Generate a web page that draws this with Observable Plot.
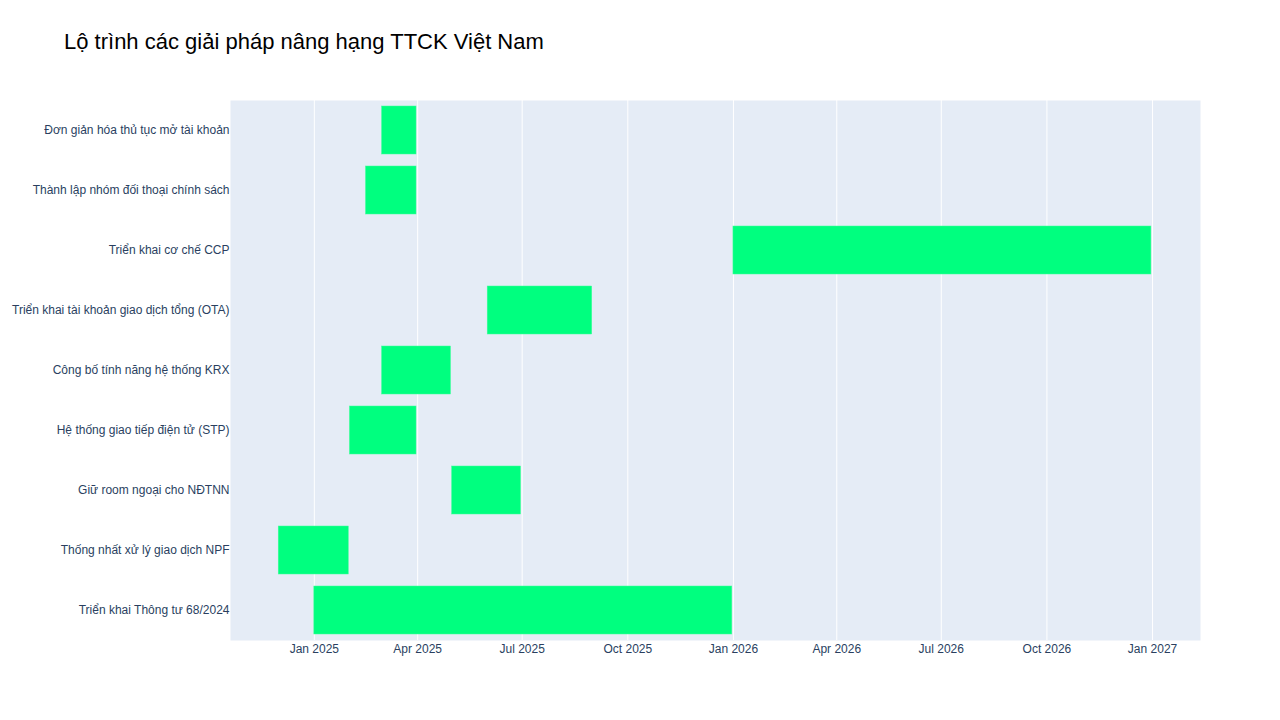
<!DOCTYPE html>
<html>
<head>
<meta charset="utf-8">
<script src="https://cdn.jsdelivr.net/npm/d3@7"></script>
<script src="https://cdn.jsdelivr.net/npm/@observablehq/plot@0.6"></script>
<style>
  html, body { margin: 0; padding: 0; background: #fff; }
  #wrap { position: relative; width: 1280px; height: 720px; }
  #title { position: absolute; left: 64px; top: 29px; font-family: "Liberation Sans", Arial, sans-serif; font-size: 22px; color: #000; }
</style>
</head>
<body>
<div id="wrap">
  <div id="title">Lộ trình các giải pháp nâng hạng TTCK Việt Nam</div>
  <div id="chart"></div>
</div>
<script>
const tasks = [
  "Đơn giản hóa thủ tục mở tài khoản",
  "Thành lập nhóm đối thoại chính sách",
  "Triển khai cơ chế CCP",
  "Triển khai tài khoản giao dịch tổng (OTA)",
  "Công bố tính năng hệ thống KRX",
  "Hệ thống giao tiếp điện tử (STP)",
  "Giữ room ngoại cho NĐTNN",
  "Thống nhất xử lý giao dịch NPF",
  "Triển khai Thông tư 68/2024"
];
const starts = ["2025-03-01","2025-02-15","2026-01-01","2025-06-01","2025-03-01","2025-02-01","2025-05-01","2024-12-01","2025-01-01"];
const ends   = ["2025-03-31","2025-03-31","2026-12-31","2025-08-31","2025-04-30","2025-03-31","2025-06-30","2025-01-31","2025-12-31"];
const tickDates = ["2025-01-01","2025-04-01","2025-07-01","2025-10-01","2026-01-01","2026-04-01","2026-07-01","2026-10-01","2027-01-01"];

const data = tasks.map((t, i) => ({task: t, start: new Date(starts[i]), end: new Date(ends[i])}));
const ticks = tickDates.map(d => new Date(d));
const fmt = d3.utcFormat("%b %Y");

const chart = Plot.plot({
  width: 1280,
  height: 720,
  marginLeft: 230,
  marginRight: 80,
  marginTop: 100,
  marginBottom: 80,
  style: { fontFamily: "'Liberation Sans', Arial, sans-serif", fontSize: "12px", color: "#2a3f5f", background: "#fff" },
  x: { type: "utc", domain: [new Date("2024-10-20"), new Date("2027-02-11T18:00")] },
  y: { domain: tasks, paddingInner: 0.2, paddingOuter: 0.1 },
  marks: [
    Plot.frame({ fill: "#E5ECF6", stroke: null }),
    Plot.ruleX(ticks, { stroke: "#fff", strokeWidth: 1 }),
    Plot.barX(data, { y: "task", x1: "start", x2: "end", fill: "#00FF7F", stroke: "#3fff99", strokeWidth: 0.5 }),
    Plot.axisX({ ticks: ticks, tickFormat: fmt, tickSize: 0, tickPadding: 4, label: null, fill: "#2a3f5f", fontSize: 12 }),
    Plot.axisY({ tickSize: 0, tickPadding: 1, label: null, fill: "#2a3f5f", fontSize: 12 })
  ]
});
document.getElementById("chart").appendChild(chart);
</script>
</body>
</html>
